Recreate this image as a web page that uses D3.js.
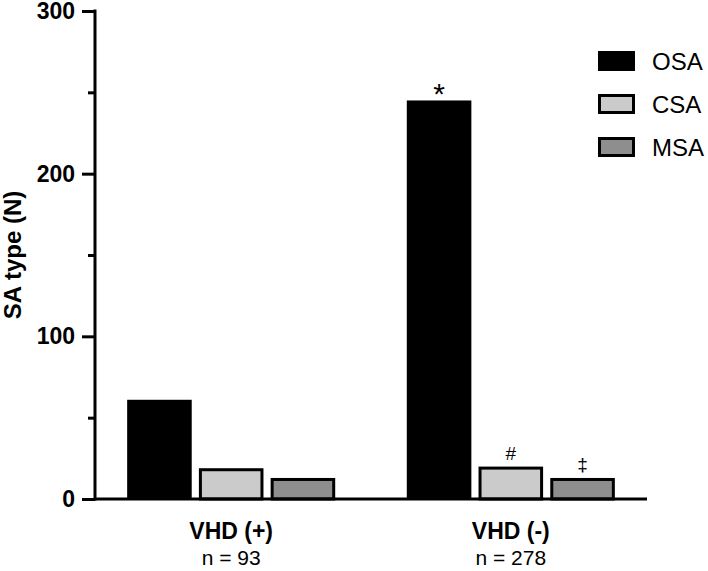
<!DOCTYPE html>
<html>
<head>
<meta charset="utf-8">
<script src="https://cdn.jsdelivr.net/npm/d3@7/dist/d3.min.js"></script>
<style>
  html, body { margin: 0; padding: 0; background: #fff; }
  svg { display: block; font-family: "Liberation Sans", Arial, sans-serif; }
</style>
</head>
<body>
<svg id="chart" width="708" height="571"></svg>
<script>
const groups = ["VHD (+)", "VHD (-)"];
const groupN = ["n = 93", "n = 278"];
const seriesNames = ["OSA", "CSA", "MSA"];
const osaValues = [61, 245];
const csaValues = [18, 19];
const msaValues = [12, 12];
const annotations = [["", "", ""], ["*", "#", "\u2021"]];
const majorTicks = [0, 100, 200, 300];
const minorTicks = [50, 150, 250];

const fills = { OSA: "#000000", CSA: "#cbcbcb", MSA: "#8e8e8e" };
const seriesValues = { OSA: osaValues, CSA: csaValues, MSA: msaValues };

const svg = d3.select("#chart");
const axisX = 95, plotTop = 11, plotBottom = 499, plotRight = 647;

const y = d3.scaleLinear().domain([0, 300]).range([plotBottom, plotTop]);
const x0 = d3.scaleBand().domain(groups).range([axisX, plotRight]).paddingInner(0.256).paddingOuter(0.115);
const x1 = d3.scaleBand().domain(seriesNames).range([0, x0.bandwidth()]).paddingInner(0.1).paddingOuter(0);

// bars
const g = svg.append("g");
groups.forEach((grp, gi) => {
  seriesNames.forEach((s, si) => {
    const v = seriesValues[s][gi];
    const bx = x0(grp) + x1(s);
    const bw = x1.bandwidth();
    if (s === "OSA") {
      g.append("rect").attr("x", bx).attr("y", y(v)).attr("width", bw).attr("height", y(0) - y(v))
        .attr("fill", fills[s]);
    } else {
      g.append("rect").attr("x", bx + 1.5).attr("y", y(v)).attr("width", bw - 3).attr("height", y(0) - y(v))
        .attr("fill", fills[s]).attr("stroke", "#000").attr("stroke-width", 3);
    }
    const a = annotations[gi][si];
    if (a) {
      const isStar = a === "*";
      g.append("text").attr("x", bx + bw / 2).attr("y", isStar ? y(v) + 4 : y(v) - 8)
        .attr("text-anchor", "middle").attr("font-size", isStar ? 30 : 19).text(a);
    }
  });
});

// y axis
const yAxis = d3.axisLeft(y).tickValues(majorTicks).tickSize(13).tickPadding(7).tickFormat(d3.format("d"));
const ya = svg.append("g").attr("transform", `translate(${axisX},0)`).call(yAxis);
ya.select(".domain").remove();
ya.selectAll(".tick line").attr("stroke", "#000").attr("stroke-width", 3);
ya.selectAll(".tick text").attr("font-size", 23).attr("font-weight", "bold").attr("fill", "#000")
  .attr("font-family", "Liberation Sans, Arial, sans-serif");
const yMinor = d3.axisLeft(y).tickValues(minorTicks).tickSize(7).tickFormat("");
const ym = svg.append("g").attr("transform", `translate(${axisX},0)`).call(yMinor);
ym.select(".domain").remove();
ym.selectAll(".tick line").attr("stroke", "#000").attr("stroke-width", 3);
svg.append("line").attr("x1", axisX).attr("x2", axisX).attr("y1", plotTop - 1.5).attr("y2", plotBottom + 1.5)
  .attr("stroke", "#000").attr("stroke-width", 3);

// x axis
svg.append("line").attr("x1", axisX).attr("x2", plotRight).attr("y1", plotBottom).attr("y2", plotBottom)
  .attr("stroke", "#000").attr("stroke-width", 3);
groups.forEach((grp, gi) => {
  const cx = x0(grp) + x0.bandwidth() / 2;
  svg.append("text").attr("x", cx).attr("y", 539).attr("text-anchor", "middle")
    .attr("font-size", 23).attr("font-weight", "bold").text(grp);
  svg.append("text").attr("x", cx).attr("y", 565).attr("text-anchor", "middle")
    .attr("font-size", 21).text(groupN[gi]);
});

// y title
svg.append("text").attr("transform", `translate(21,${(plotTop + plotBottom) / 2}) rotate(-90)`)
  .attr("text-anchor", "middle").attr("font-size", 24).attr("font-weight", "bold").text("SA type (N)");

// legend
const legendY = [61, 104, 147];
seriesNames.forEach((s, i) => {
  const ly = legendY[i];
  if (s === "OSA") {
    svg.append("rect").attr("x", 598).attr("y", ly - 10).attr("width", 37).attr("height", 20).attr("fill", fills[s]);
  } else {
    svg.append("rect").attr("x", 599.5).attr("y", ly - 8.5).attr("width", 34).attr("height", 17)
      .attr("fill", fills[s]).attr("stroke", "#000").attr("stroke-width", 3);
  }
  svg.append("text").attr("x", 652).attr("y", ly + 8.5).attr("font-size", 24).text(s);
});
</script>
</body>
</html>
